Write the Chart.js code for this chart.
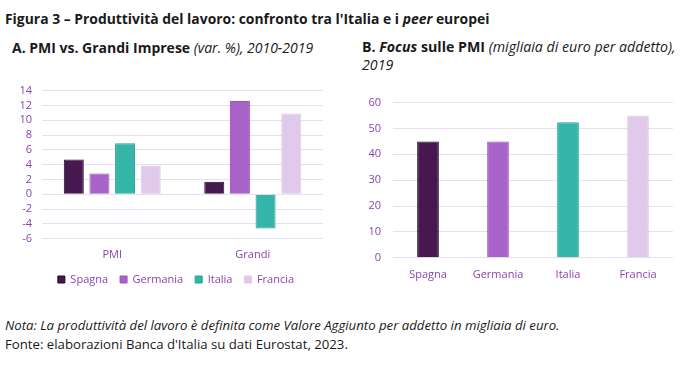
<!DOCTYPE html>
<html>
<head>
<meta charset="utf-8">
<script src="https://cdn.jsdelivr.net/npm/chart.js@4/dist/chart.umd.min.js"></script>
<style>
    body { margin: 0; width: 690px; height: 368px; background: #fff; position: relative; font-family: "Open Sans", sans-serif; color: #1a1a1a; overflow: hidden }
    .t { position: absolute; white-space: nowrap }
    #title { left: 5px; top: 9px; font-size: 13.9px; font-weight: 700 }
    #subA { left: 12px; top: 38px; font-size: 14px }
    #subB { left: 362px; top: 38px; font-size: 14.2px; line-height: 18px }
    #note { left: 5px; top: 316px; font-size: 13.2px; line-height: 19px }
    canvas { position: absolute }
    #CHART_A { left: 0; top: 74px }
    #CHART_B { left: 345px; top: 84px }
</style>
</head>
<body>
<div class="t" id="title">Figura 3 – Produttività del lavoro: confronto tra l'Italia e i <i>peer</i> europei</div>
<div class="t" id="subA"><b>A. PMI vs. Grandi Imprese</b> <i>(var. %), 2010-2019</i></div>
<div class="t" id="subB"><b>B. <i>Focus</i> sulle PMI</b> <i>(migliaia di euro per addetto),<br>2019</i></div>
<canvas id="CHART_A" width="352" height="221"></canvas>
<canvas id="CHART_B" width="345" height="199"></canvas>
<div class="t" id="note"><i>Nota: La produttività del lavoro è definita come Valore Aggiunto per addetto in migliaia di euro.</i><br>Fonte: elaborazioni Banca d'Italia su dati Eurostat, 2023.</div>
<script>
"use strict"

// panel A: var. % 2010-2019
const groups = ["PMI", "Grandi"]
const countries = ["Spagna", "Germania", "Italia", "Francia"]
const spagna = [4.7, 1.7]
const germania = [2.8, 12.6]
const italia = [6.9, -4.6]
const francia = [3.9, 10.9]

// panel B: migliaia di euro per addetto, 2019
const pmi2019 = [45, 45, 52.4, 55]

const fill = ["#46184f", "#a862c8", "#35b4aa", "#e0caec"]
const edge = ["#1c0a22", "#9a56bb", "#2a9d94", "#e0caec"]
const tickColor = "#8a44b0"
const gridColor = "#e7def0"
const font = { family: "Open Sans", size: 11 }

Chart.defaults.animation = false

new Chart(CHART_A, {
    type: "bar",
    data: {
        labels: groups,
        datasets: [spagna, germania, italia, francia].map((v, i) => ({
            label: countries[i],
            data: v,
            backgroundColor: fill[i],
            borderColor: edge[i],
            borderWidth: 1,
            categoryPercentage: 0.73,
            barPercentage: 0.78,
        })),
    },
    options: {
        responsive: false,
        layout: { padding: { top: 6, right: 0, bottom: 0 } },
        plugins: {
            legend: {
                position: "bottom",
                labels: { boxWidth: 7, boxHeight: 7, padding: 12, color: tickColor, font: { family: "Open Sans", size: 11 } },
            },
            tooltip: { enabled: false },
        },
        scales: {
            x: {
                grid: { display: false },
                border: { display: false },
                ticks: { color: tickColor, font: font, padding: 1 },
            },
            y: {
                min: -6, max: 14,
                afterFit: axis => axis.width = 42,
                grid: { color: gridColor, drawTicks: false },
                border: { display: false },
                ticks: { stepSize: 2, autoSkip: false, color: tickColor, font: font, padding: 10 },
            },
            // empty right axis, only keeps the plot clear of the right edge
            spacer: {
                position: "right",
                afterFit: axis => axis.width = 29,
                grid: { display: false },
                border: { display: false },
                ticks: { display: false },
            },
        },
    },
})

new Chart(CHART_B, {
    type: "bar",
    data: {
        labels: countries,
        datasets: [{
            data: pmi2019,
            backgroundColor: fill,
            borderColor: edge,
            borderWidth: 1,
            categoryPercentage: 1,
            barPercentage: 0.31,
        }],
    },
    options: {
        responsive: false,
        layout: { padding: { top: 3, right: 17 } },
        plugins: { legend: { display: false }, tooltip: { enabled: false } },
        scales: {
            x: {
                grid: { display: false },
                border: { display: false },
                ticks: { color: tickColor, font: font, padding: 2 },
            },
            y: {
                min: 0, max: 60,
                afterFit: axis => axis.width = 48,
                grid: { color: gridColor, drawTicks: false },
                border: { display: false },
                ticks: { stepSize: 10, color: tickColor, font: font, padding: 12 },
            },
        },
    },
})
</script>
</body>
</html>
